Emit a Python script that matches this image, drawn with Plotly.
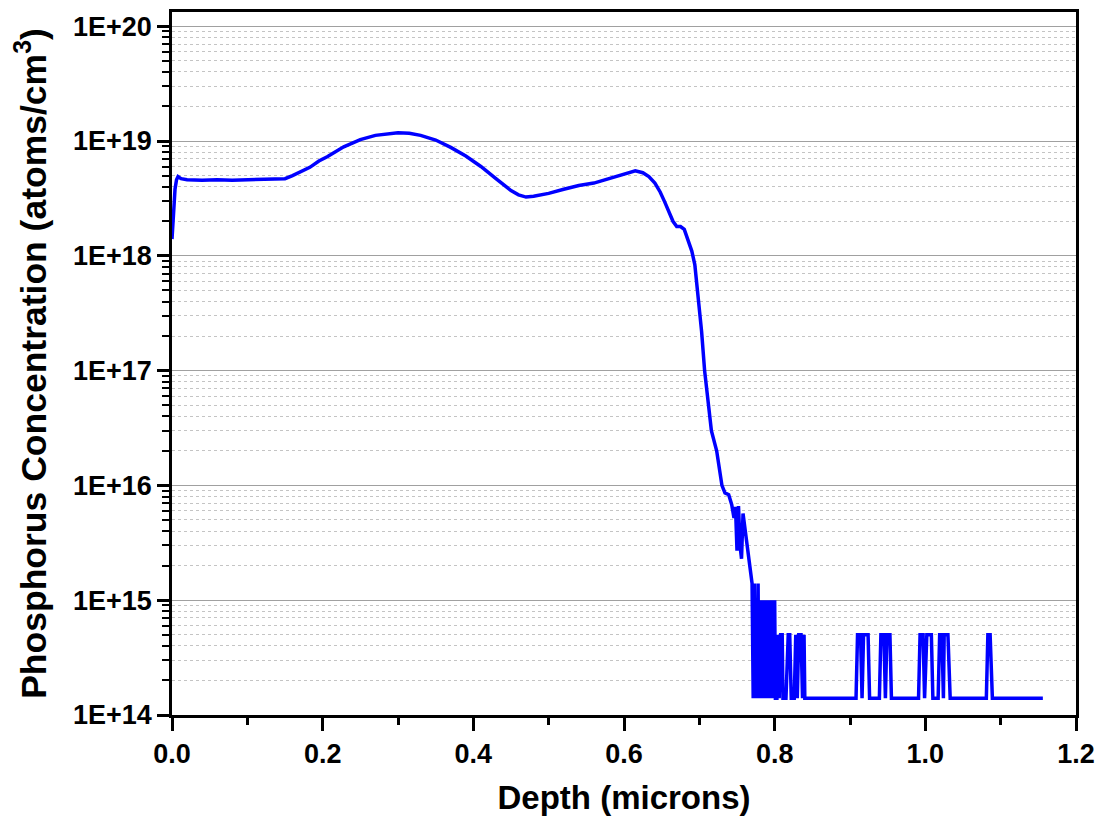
import plotly.graph_objects as go

# Depth (microns) and phosphorus concentration (atoms/cm^3)
depth = [
    0.000, 0.002, 0.004, 0.006, 0.008, 0.012, 0.02, 0.04, 0.06, 0.08, 0.10, 0.12, 0.14, 0.15,
    0.16, 0.17, 0.183, 0.195, 0.206, 0.228, 0.25, 0.27, 0.29, 0.30, 0.315, 0.33, 0.35, 0.37,
    0.39, 0.41, 0.43, 0.45, 0.46, 0.47, 0.48, 0.50, 0.52, 0.54, 0.56, 0.58, 0.60, 0.615,
    0.625, 0.633, 0.641, 0.648, 0.654, 0.660, 0.665, 0.670, 0.675, 0.680, 0.685, 0.690,
    0.694, 0.697, 0.700, 0.703, 0.707, 0.711, 0.716, 0.723, 0.728, 0.730, 0.734, 0.739,
    0.743, 0.746, 0.748, 0.750, 0.752, 0.754, 0.756, 0.758, 0.761, 0.764, 0.767, 0.770,
    0.7715, 0.773, 0.774, 0.775, 0.7765, 0.778, 0.779, 0.780, 0.781, 0.782, 0.783, 0.784,
    0.785, 0.786, 0.787, 0.788, 0.789, 0.790, 0.791, 0.792, 0.793, 0.794, 0.795, 0.796,
    0.797, 0.798, 0.799, 0.800, 0.801, 0.803, 0.805, 0.806, 0.808, 0.810, 0.811, 0.815,
    0.818, 0.820, 0.822, 0.826, 0.828, 0.830, 0.832, 0.835, 0.837, 0.839, 0.840,
    0.908, 0.910, 0.914, 0.916, 0.918, 0.924, 0.926,
    0.939, 0.941, 0.945, 0.947, 0.949, 0.953, 0.955,
    0.991, 0.993, 0.997, 0.999, 1.002, 1.008, 1.010,
    1.017, 1.019, 1.022, 1.024, 1.025, 1.030, 1.033,
    1.081, 1.083, 1.086, 1.089, 1.156,
]
conc = [
    1.4e18, 2.6e18, 3.8e18, 4.6e18, 4.9e18, 4.7e18, 4.6e18, 4.55e18, 4.6e18, 4.55e18, 4.6e18, 4.65e18, 4.65e18, 4.7e18,
    5.0e18, 5.4e18, 5.9e18, 6.7e18, 7.3e18, 8.9e18, 1.03e19, 1.12e19, 1.17e19, 1.18e19, 1.17e19, 1.12e19, 1.02e19, 8.8e18,
    7.4e18, 6.0e18, 4.7e18, 3.7e18, 3.4e18, 3.25e18, 3.3e18, 3.5e18, 3.8e18, 4.1e18, 4.3e18, 4.7e18, 5.2e18, 5.5e18,
    5.3e18, 4.9e18, 4.3e18, 3.6e18, 2.95e18, 2.4e18, 2.0e18, 1.8e18, 1.8e18, 1.7e18, 1.4e18, 1.1e18,
    8.4e17, 5.5e17, 3.6e17, 2.2e17, 1.0e17, 5.5e16, 3.0e16, 2.0e16, 1.3e16, 1.0e16, 8.6e15, 8.3e15,
    6.8e15, 5.2e15, 6.5e15, 2.7e15, 6.6e15, 3.0e15, 2.3e15, 5.7e15, 4.0e15, 2.8e15, 1.9e15, 1.4e15,
    1.4e14, 1.4e15, 1.4e14, 1.0e15, 1.4e14, 1.4e15, 1.4e14, 5e14, 1.4e14, 1.0e15, 1.4e14, 1.0e15,
    5e14, 1.4e14, 1.0e15, 1.4e14, 5e14, 1.0e15, 1.4e14, 1.0e15, 1.4e14, 1.0e15, 1.0e15, 1.4e14,
    1.0e15, 1.4e14, 1.0e15, 1.0e15, 1.4e14, 1.4e14, 5e14, 1.4e14, 5e14, 5e14, 1.4e14, 1.4e14,
    5e14, 5e14, 1.4e14, 1.4e14, 5e14, 1.4e14, 5e14, 5e14, 1.4e14, 5e14, 1.4e14,
    1.4e14, 5e14, 5e14, 1.4e14, 5e14, 5e14, 1.4e14,
    1.4e14, 5e14, 5e14, 1.4e14, 5e14, 5e14, 1.4e14,
    1.4e14, 5e14, 5e14, 1.4e14, 5e14, 5e14, 1.4e14,
    1.4e14, 5e14, 5e14, 1.4e14, 5e14, 5e14, 1.4e14,
    1.4e14, 5e14, 5e14, 1.4e14, 1.4e14,
]

x_ticks = [0.0, 0.2, 0.4, 0.6, 0.8, 1.0, 1.2]
x_ticktext = ["0.0", "0.2", "0.4", "0.6", "0.8", "1.0", "1.2"]
y_exponents = [14, 15, 16, 17, 18, 19, 20]
y_ticktext = ["1E+14", "1E+15", "1E+16", "1E+17", "1E+18", "1E+19", "1E+20"]

y_tickvals = [10.0 ** e for e in y_exponents]
y_minor = [m * 10.0 ** e for e in y_exponents[:-1] for m in range(2, 10)]

FONT = "Liberation Sans, Arial, sans-serif"

fig = go.Figure()
fig.add_trace(go.Scatter(
    x=depth, y=conc, mode="lines",
    line=dict(color="#0000FF", width=3.5),
    showlegend=False,
))

fig.update_layout(
    width=1106, height=830,
    margin=dict(l=172, r=30, t=9, b=115),
    paper_bgcolor="white", plot_bgcolor="white",
    font=dict(family=FONT, color="black"),
    xaxis=dict(
        range=[0, 1.2],
        tickmode="array", tickvals=x_ticks, ticktext=x_ticktext,
        ticks="outside", ticklen=13, tickwidth=2.5, tickcolor="black",
        tickfont=dict(family=FONT, size=27, weight="bold"),
        showline=True, linewidth=2.5, linecolor="black", mirror=True,
        showgrid=False, zeroline=False,
        minor=dict(dtick=0.1, tick0=0, ticks="outside", ticklen=7, tickwidth=2.5, tickcolor="black", showgrid=False),
        title=dict(text="Depth (microns)", font=dict(family=FONT, size=33, weight="bold"), standoff=18),
    ),
    yaxis=dict(
        type="log",
        range=[14, 20.124],
        tickmode="array", tickvals=y_tickvals, ticktext=y_ticktext,
        ticks="outside", ticklen=12, tickwidth=2.5, tickcolor="black",
        tickfont=dict(family=FONT, size=27, weight="bold"),
        showline=True, linewidth=2.5, linecolor="black", mirror=True,
        showgrid=True, gridcolor="#a0a0a0", gridwidth=1.2,
        zeroline=False,
        minor=dict(tickmode="array", tickvals=y_minor, ticks="outside", ticklen=7, tickwidth=2,
                   tickcolor="black", showgrid=True, gridcolor="#c4c4c4", griddash="dot", gridwidth=1),
        title=dict(text="Phosphorus Concentration (atoms/cm<sup>3</sup>)",
                   font=dict(family=FONT, size=35.5, weight="bold"), standoff=16),
    ),
)

fig.write_html("out.html")
